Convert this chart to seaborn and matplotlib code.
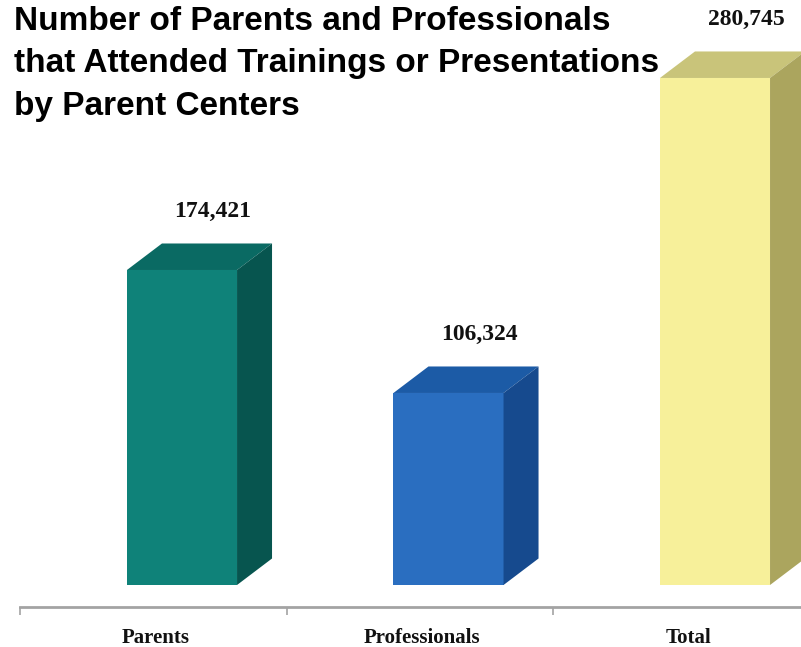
import matplotlib
matplotlib.use("Agg")
import matplotlib.pyplot as plt
from matplotlib.patches import Polygon
import pandas as pd
import seaborn as sns

# ---- data ----
categories = ["Parents", "Professionals", "Total"]
attendees = [174421, 106324, 280745]
value_labels = [f"{v:,}" for v in attendees]
title_lines = [
    "Number of Parents and Professionals",
    "that Attended Trainings or Presentations",
    "by Parent Centers",
]

# ---- colours: front, top and side faces of each box ----
front_colors = ["#0f8279", "#2a6ec0", "#f7f09a"]
top_colors = ["#0a6a63", "#1c5ba6", "#c9c47a"]
side_colors = ["#07554f", "#164a8e", "#aba55e"]

sns.set_theme(style="white")
plt.rcParams["font.family"] = ["Liberation Sans", "DejaVu Sans"]

W, H = 801, 647
fig = plt.figure(figsize=(W / 100, H / 100), dpi=100)
fig.patch.set_facecolor("white")

# layout: baseline of the bars sits 585 px from the top of the figure
base_px = 585
px_per_cat = 266.5      # horizontal distance between categories
first_px = 182          # centre of the first box front
val_per_px = 553.7      # attendees per vertical pixel

ax = fig.add_axes([0, (H - base_px) / H, 1, base_px / H])
ax.patch.set_alpha(0)

df = pd.DataFrame({"category": categories, "attendees": attendees})
sns.barplot(
    data=df, x="category", y="attendees", hue="category",
    palette=front_colors, width=0.413, saturation=1, legend=False,
    errorbar=None, ax=ax, zorder=2, linewidth=0,
)

ax.set_xlim(-first_px / px_per_cat, (W - first_px) / px_per_cat)
ax.set_ylim(0, base_px * val_per_px)

# 3-D look: top and side faces derived from each bar
dx = 35 / px_per_cat
dy = 26.5 * val_per_px
bars = list(ax.patches)
for bar, ct, cs, lab in zip(bars, top_colors, side_colors, value_labels):
    x0 = bar.get_x()
    x1 = x0 + bar.get_width()
    top = bar.get_height()
    ax.add_patch(Polygon([(x0, top), (x0 + dx, top + dy), (x1 + dx, top + dy), (x1, top)],
                         closed=True, facecolor=ct, edgecolor="none", zorder=2))
    ax.add_patch(Polygon([(x1, 0), (x1 + dx, dy), (x1 + dx, top + dy), (x1, top)],
                         closed=True, facecolor=cs, edgecolor="none", zorder=2))
    ax.annotate(lab, xy=(x0 + bar.get_width() / 2, top), xytext=(31, 53),
                textcoords="offset pixels", ha="center", va="baseline",
                fontfamily="Liberation Serif", fontweight="bold", fontsize=17,
                color="#111111", annotation_clip=False)

# category axis: line below the bars, ticks between categories
ax.set_xlabel("")
ax.set_ylabel("")
ax.set_yticks([])
for side in ("left", "top", "right"):
    ax.spines[side].set_visible(False)
spine = ax.spines["bottom"]
spine.set_position(("outward", 22 * 0.72))
spine.set_color("#a3a3a3")
spine.set_linewidth(2)
boundaries = [i - 0.607 for i in range(len(categories))]
spine.set_bounds(boundaries[0], ax.get_xlim()[1])

ax.set_xticks([i - 0.1 for i in range(len(categories))], categories)
ax.set_xticks(boundaries, minor=True)
ax.tick_params(axis="x", which="major", length=0, pad=15, labelsize=15, bottom=True)
ax.tick_params(axis="x", which="minor", length=6, width=1.2, color="#a3a3a3",
               direction="out", bottom=True)
for t in ax.get_xticklabels():
    t.set_fontfamily("Liberation Serif")
    t.set_fontweight("bold")
    t.set_color("#111111")

# title block, top-left
for line, base in zip(title_lines, [30, 72, 115]):
    fig.text(14 / W, (H - base) / H, line, ha="left", va="baseline",
             fontsize=24, fontweight="bold", color="black", zorder=5)

fig.savefig("out.png", dpi=100)
